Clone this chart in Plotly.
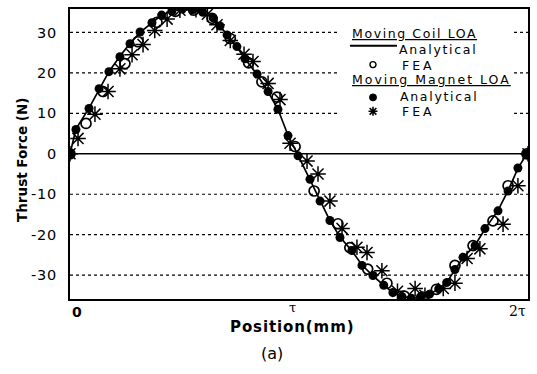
import plotly.graph_objects as go

# Position is expressed in units of the pole pitch tau (0 .. 2 tau)
pos_analytical = [0.000, 0.026, 0.083, 0.127, 0.170, 0.218, 0.262, 0.306, 0.358, 0.400,
                  0.445, 0.490, 0.535, 0.580, 0.625, 0.655, 0.686, 0.729, 0.764, 0.817,
                  0.865, 0.908, 0.952, 0.996, 1.048, 1.092, 1.135, 1.179, 1.231, 1.275,
                  1.323, 1.370, 1.410, 1.450, 1.490, 1.530, 1.570, 1.610, 1.646, 1.681,
                  1.716, 1.769, 1.812, 1.869, 1.913, 1.956, 1.995]

# Moving coil LOA, analytical thrust force (N)
coil_analytical = [0.0, 6.1, 11.3, 16.0, 20.3, 24.1, 27.3, 30.0, 32.5, 34.3,
                   35.3, 35.8, 35.7, 35.0, 33.7, 31.7, 29.4, 26.4, 23.5, 19.6,
                   15.3, 11.0, 4.6, -0.4, -6.4, -11.6, -16.5, -20.6, -24.0, -27.5,
                   -30.2, -32.5, -34.3, -35.3, -35.7, -35.4, -34.7, -33.4, -31.7, -28.7,
                   -25.7, -22.6, -18.6, -14.0, -9.1, -3.6, 0.0]

# Moving magnet LOA, analytical thrust force (N)
magnet_analytical = [0.0, 6.0, 11.2, 16.1, 20.3, 24.0, 27.2, 30.1, 32.4, 34.3,
                     35.3, 35.8, 35.6, 35.0, 33.6, 31.6, 29.4, 26.5, 23.5, 19.7,
                     15.4, 11.0, 4.5, -0.5, -6.3, -11.7, -16.5, -20.7, -23.9, -27.6,
                     -30.1, -32.5, -34.3, -35.3, -35.7, -35.4, -34.7, -33.4, -31.8, -28.6,
                     -25.6, -22.7, -18.5, -14.1, -9.2, -3.5, 0.0]

# Moving coil LOA, FEA thrust force (N)
pos_coil_fea = [0.000, 0.070, 0.144, 0.240, 0.297, 0.380, 0.460, 0.540, 0.620, 0.700,
                0.780, 0.838, 0.904, 0.983, 1.066, 1.170, 1.222, 1.300, 1.384, 1.460,
                1.540, 1.600, 1.681, 1.760, 1.847, 1.913, 1.995]
coil_fea = [0.0, 7.5, 15.4, 22.3, 27.7, 32.5, 35.2, 35.5, 33.5, 28.5,
            22.5, 17.8, 14.0, 1.8, -9.2, -17.3, -23.2, -28.5, -32.0, -35.2,
            -35.4, -33.5, -27.6, -22.7, -16.6, -7.9, 0.0]

# Moving magnet LOA, FEA thrust force (N)
pos_magnet_fea = [0.000, 0.035, 0.109, 0.166, 0.218, 0.271, 0.319, 0.370, 0.424, 0.480,
                  0.550, 0.600, 0.642, 0.700, 0.760, 0.799, 0.865, 0.917, 0.961, 1.035,
                  1.083, 1.135, 1.188, 1.253, 1.297, 1.362, 1.430, 1.507, 1.550, 1.630,
                  1.681, 1.734, 1.790, 1.891, 1.956, 2.000]
magnet_fea = [0.0, 3.8, 9.8, 15.4, 21.0, 24.5, 27.0, 30.5, 33.3, 35.5,
              35.6, 34.5, 31.9, 28.0, 24.6, 22.8, 17.4, 13.4, 2.6, -1.8,
              -5.0, -11.7, -18.5, -23.1, -24.4, -28.9, -34.0, -33.3, -35.0, -33.3,
              -32.0, -25.9, -23.5, -17.4, -7.9, 0.0]

y_ticks = [-30, -20, -10, 0, 10, 20, 30]
y_tick_labels = ["-30", "-20", "-10", "0", "10", "20", "30"]
x_ticks = [0, 1, 2]
x_tick_labels = ["0", "τ", "2τ"]

FONT = "DejaVu Sans"
W, H = 537, 374
L, R, T, B = 70, 9, 7, 75
PW, PH = W - L - R, H - T - B


def px(xp):
    return (xp - L) / PW


def py(yp):
    return (H - B - yp) / PH


def spaced(text, sp):
    return f'<span style="letter-spacing:{sp}px">{text}</span>'


fig = go.Figure()

fig.add_trace(go.Scatter(
    x=pos_analytical, y=coil_analytical, mode="lines",
    line=dict(color="black", width=1.7), showlegend=False))
fig.add_trace(go.Scatter(
    x=pos_coil_fea, y=coil_fea, mode="markers",
    marker=dict(symbol="circle-open", size=10, color="black", line=dict(width=1.7)),
    showlegend=False))
fig.add_trace(go.Scatter(
    x=pos_analytical, y=magnet_analytical, mode="markers",
    marker=dict(symbol="circle", size=9, color="black"), showlegend=False))
fig.add_trace(go.Scatter(
    x=pos_magnet_fea, y=magnet_fea, mode="markers",
    marker=dict(symbol="asterisk-open", size=13, color="black", line=dict(width=1.5, color="black")),
    showlegend=False))

# dotted horizontal grid
shapes = []
for v in y_ticks:
    if v == 0:
        continue
    shapes.append(dict(type="line", xref="paper", yref="y", x0=0, x1=1, y0=v, y1=v,
                       line=dict(color="black", width=1.2, dash="3px,3px"), layer="below"))
shapes.append(dict(type="line", xref="paper", yref="y", x0=0, x1=1, y0=0, y1=0,
                   line=dict(color="black", width=1.6), layer="below"))

# legend panel
shapes.append(dict(type="rect", xref="paper", yref="paper",
                   x0=px(340), x1=px(511), y0=py(124), y1=py(22),
                   fillcolor="white", line=dict(width=0), layer="between"))
shapes.append(dict(type="line", xref="paper", yref="paper",
                   x0=px(350), x1=px(397), y0=py(44), y1=py(44),
                   line=dict(color="black", width=1.8)))
shapes.append(dict(type="circle", xref="paper", yref="paper",
                   x0=px(370), x1=px(376), y0=py(66), y1=py(60),
                   line=dict(color="black", width=1.4)))
shapes.append(dict(type="circle", xref="paper", yref="paper",
                   x0=px(369.5), x1=px(376.5), y0=py(99.5), y1=py(92.5),
                   fillcolor="black", line=dict(color="black", width=1)))
cx, cy, r = 373, 110, 4.5
star = (f"M {px(cx - r)} {py(cy)} L {px(cx + r)} {py(cy)} "
        f"M {px(cx)} {py(cy - r)} L {px(cx)} {py(cy + r)} "
        f"M {px(cx - r * 0.75)} {py(cy - r * 0.75)} L {px(cx + r * 0.75)} {py(cy + r * 0.75)} "
        f"M {px(cx - r * 0.75)} {py(cy + r * 0.75)} L {px(cx + r * 0.75)} {py(cy - r * 0.75)}")
shapes.append(dict(type="path", xref="paper", yref="paper", path=star,
                   line=dict(color="black", width=1.6)))

annotations = []
legend_rows = [
    ("<u>" + spaced("Moving Coil LOA", 1.6) + "</u>", 350, 32),
    (spaced("Analytical", 1.7), 397, 47.5),
    (spaced("FEA", 3.0), 400, 63.5),
    ("<u>" + spaced("Moving Magnet LOA", 2.0) + "</u>", 350, 78),
    (spaced("Analytical", 1.7), 398, 95.5),
    (spaced("FEA", 3.0), 400, 110.5),
]
for txt, xx, yy in legend_rows:
    annotations.append(dict(text=txt, xref="paper", yref="paper", x=px(xx), y=py(yy),
                            xanchor="left", yanchor="middle", showarrow=False,
                            font=dict(family=FONT, size=12.5, color="black")))

# x tick labels
annotations.append(dict(text="<b>" + x_tick_labels[0] + "</b>", xref="x", yref="paper",
                        x=x_ticks[0], y=py(312), xanchor="left", yanchor="middle",
                        showarrow=False, font=dict(family=FONT, size=14, color="black")))
annotations.append(dict(text=x_tick_labels[1], xref="x", yref="paper",
                        x=x_ticks[1] - 0.03, y=py(308), xanchor="center", yanchor="middle",
                        showarrow=False, font=dict(family="DejaVu Serif", size=13, color="black")))
annotations.append(dict(text=x_tick_labels[2], xref="x", yref="paper",
                        x=x_ticks[2], y=py(311), xanchor="right", yanchor="middle",
                        showarrow=False, font=dict(family="DejaVu Serif", size=14, color="black")))

# axis titles and caption
annotations.append(dict(text="<b>" + spaced("Position(mm)", 0.9) + "</b>", xref="paper", yref="paper",
                        x=px(292), y=py(327), xanchor="center", yanchor="middle",
                        showarrow=False, font=dict(family=FONT, size=15, color="black")))
annotations.append(dict(text="<b>Thrust Force (N)</b>", xref="paper", yref="paper",
                        x=px(22), y=py(159), xanchor="center", yanchor="middle", textangle=-90,
                        showarrow=False, font=dict(family=FONT, size=13.5, color="black")))
annotations.append(dict(text="(a)", xref="paper", yref="paper",
                        x=px(272), y=py(354), xanchor="center", yanchor="middle",
                        showarrow=False, font=dict(family=FONT, size=16, color="black")))

fig.update_layout(
    width=W, height=H,
    margin=dict(l=L, r=R, t=T, b=B),
    paper_bgcolor="white", plot_bgcolor="white",
    shapes=shapes, annotations=annotations,
    xaxis=dict(range=[0, 2], showgrid=False, zeroline=False, showticklabels=False,
               ticks="", showline=True, linecolor="black", linewidth=2, mirror=True),
    yaxis=dict(range=[-35.9, 35.8], showgrid=False, zeroline=False,
               tickvals=y_ticks, ticktext=[spaced(t, 0.8) for t in y_tick_labels],
               tickfont=dict(family=FONT, size=14.5, color="black"),
               ticks="", ticklabelstandoff=8,
               showline=True, linecolor="black", linewidth=2, mirror=True),
)

fig.write_html("out.html")
